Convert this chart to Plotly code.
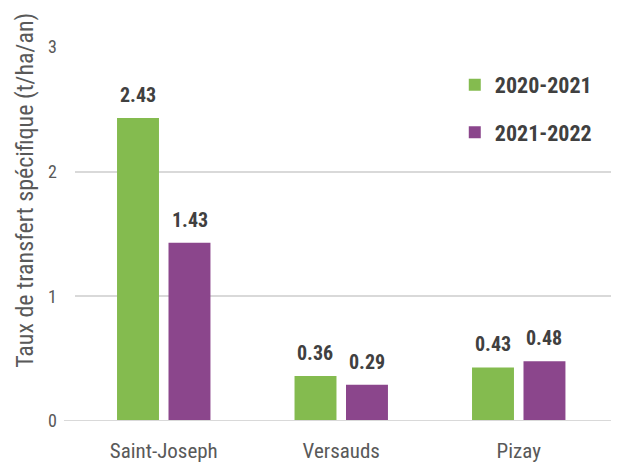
import plotly.graph_objects as go

sites = ["Saint-Joseph", "Versauds", "Pizay"]
seasons = ["2020-2021", "2021-2022"]
taux_2020_2021 = [2.43, 0.36, 0.43]
taux_2021_2022 = [1.43, 0.29, 0.48]
y_ticks = [0, 1, 2, 3]

colors = ["#84BB4F", "#8B468C"]
font_family = "Roboto Condensed, DejaVu Sans Condensed, Liberation Sans Narrow, Arial Narrow, sans-serif"

fig = go.Figure()
for i, (name, vals) in enumerate(zip(seasons, [taux_2020_2021, taux_2021_2022])):
    fig.add_trace(go.Bar(
        x=sites,
        y=vals,
        name="<b>%s</b>" % name,
        legendgroup=name,
        marker=dict(color=colors[i], line=dict(width=0)),
    ))

# value labels above the bars
for i, vals in enumerate([taux_2020_2021, taux_2021_2022]):
    shift = -25.75 if i == 0 else 25.75
    for site, v in zip(sites, vals):
        fig.add_annotation(
            x=site, y=v, xref="x", yref="y",
            text="<b>%.2f</b>" % v,
            showarrow=False, xshift=shift, yshift=23,
            xanchor="center", yanchor="middle",
            font=dict(size=20, color="#404040", family=font_family),
        )

# y axis title
fig.add_annotation(
    text="Taux de transfert spécifique (t/ha/an)",
    xref="paper", yref="paper", x=-0.0906, y=0.618,
    xanchor="center", yanchor="middle",
    textangle=-90, showarrow=False,
    font=dict(size=24, color="#595959", family=font_family),
)

fig.update_layout(
    width=619, height=463,
    margin=dict(l=67, r=0, t=39, b=49.5),
    plot_bgcolor="white", paper_bgcolor="white",
    barmode="group", bargap=0.42, bargroupgap=0.185,
    font=dict(family=font_family, color="#595959", size=21),
    showlegend=True,
    legend=dict(
        x=0.688, y=0.955, xanchor="left", yanchor="top",
        traceorder="grouped", tracegroupgap=16,
        font=dict(size=22, color="#404040", family=font_family),
        itemwidth=30,
    ),
    xaxis=dict(
        range=[-0.5, 2.61], showgrid=False, zeroline=False,
        showline=False, ticks="", ticklabelstandoff=15,
        tickfont=dict(size=21, color="#595959"),
    ),
    yaxis=dict(
        range=[0, 3], tickvals=y_ticks, showgrid=True,
        gridcolor="#D9D9D9", gridwidth=1.5, zeroline=False,
        showline=False, ticklabelstandoff=17,
        tickfont=dict(size=18, color="#595959"),
    ),
)

# baseline extends a little left of the grid
fig.add_shape(type="line", xref="paper", yref="y", x0=-0.02, x1=1, y0=0, y1=0,
              line=dict(color="#D9D9D9", width=2))

fig.write_html("out.html")
